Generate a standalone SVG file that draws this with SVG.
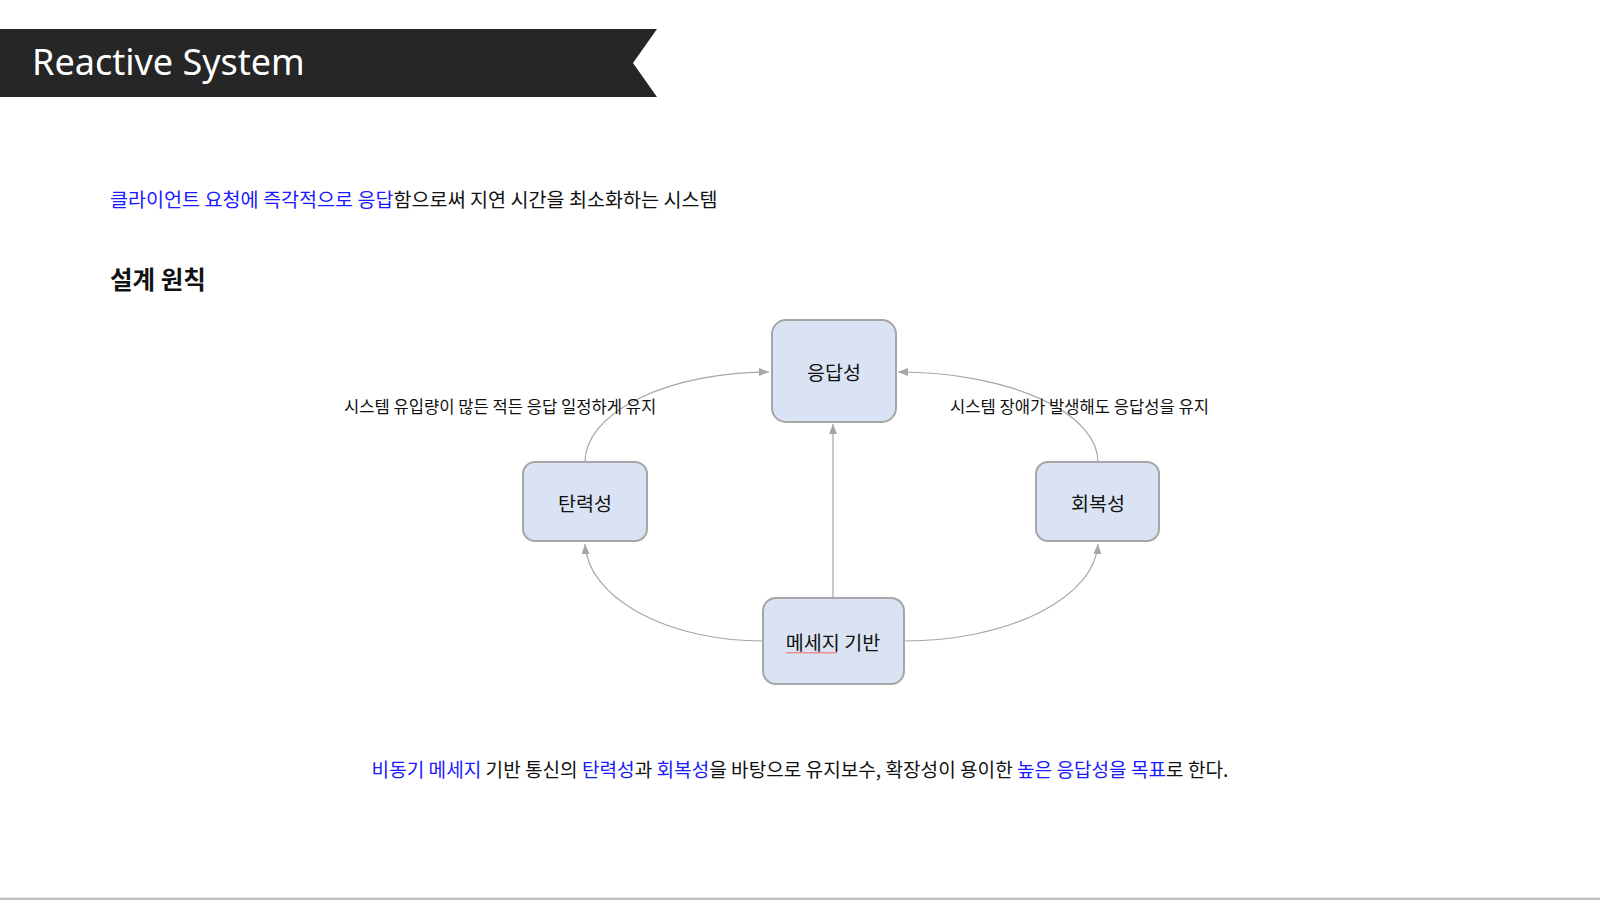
<svg xmlns="http://www.w3.org/2000/svg" width="1600" height="900" viewBox="0 0 1600 900">
  <defs>
    <marker id="arr" markerUnits="userSpaceOnUse" markerWidth="11" markerHeight="9" refX="10" refY="4" orient="auto">
      <path d="M0,0 L10,4 L0,8 z" fill="#a6a6a6"/>
    </marker>
    <style>
      .kr { font-family: "Noto Sans CJK KR", "Noto Sans", sans-serif; }
      .body { fill: #111111; }
      .blue { fill: #1a1aff; }
      .node rect { fill: #dae3f3; stroke: #a6a6a6; stroke-width: 2; }
      .node text { font-family: "Noto Sans CJK KR", sans-serif; font-size: 19.6px; fill: #111111; text-anchor: middle; dominant-baseline: central; }
      .conn path { fill: none; stroke: #a6a6a6; stroke-width: 1.2; marker-end: url(#arr); }
      .lbl { font-family: "Noto Sans CJK KR", sans-serif; font-size: 16.6px; fill: #111111; dominant-baseline: central; }
    </style>
  </defs>
  <rect width="1600" height="900" fill="#ffffff"/>

  <!-- Banner -->
  <polygon points="0,29 657,29 633,63 657,97 0,97" fill="#262626"/>
  <text x="32" y="75" font-family="'Noto Sans', 'Open Sans', sans-serif" font-size="36" fill="#ffffff">Reactive System</text>

  <!-- Intro line -->
  <text class="kr body" x="110" y="207" font-size="19.6"><tspan class="blue">클라이언트 요청에 즉각적으로 응답</tspan>함으로써 지연 시간을 최소화하는 시스템</text>

  <!-- Heading -->
  <text class="kr" x="110" y="289" font-size="24.5" font-weight="bold" fill="#111111">설계 원칙</text>

  <!-- Connectors -->
  <g id="connectors" class="conn">
    <path d="M833,598 L833,424"/>
    <path d="M763,641 A178,100 0 0 1 585,544"/>
    <path d="M904,641 A194,100 0 0 0 1098,544"/>
    <path d="M585,462 A185,90 0 0 1 769,372"/>
    <path d="M1098,462 A200,90 0 0 0 898,372"/>
  </g>

  <!-- Connector labels -->
  <text class="lbl" x="344" y="406">시스템 유입량이 많든 적든 응답 일정하게 유지</text>
  <text class="lbl" x="950" y="406">시스템 장애가 발생해도 응답성을 유지</text>

  <!-- Nodes -->
  <g id="node-response" class="node">
    <rect x="772" y="320" width="124" height="102" rx="14"/>
    <text x="834" y="371">응답성</text>
  </g>
  <g id="node-elastic" class="node">
    <rect x="523" y="462" width="124" height="79" rx="12"/>
    <text x="585" y="502">탄력성</text>
  </g>
  <g id="node-resilient" class="node">
    <rect x="1036" y="462" width="123" height="79" rx="12"/>
    <text x="1098" y="502">회복성</text>
  </g>
  <g id="node-message" class="node">
    <rect x="763" y="598" width="141" height="86" rx="13"/>
    <text x="833" y="641">메세지 기반</text>
  </g>
  <path d="M786,653.5 l1.5,-1.5 l1.5,1.5 l1.5,-1.5 l1.5,1.5 l1.5,-1.5 l1.5,1.5 l1.5,-1.5 l1.5,1.5 l1.5,-1.5 l1.5,1.5 l1.5,-1.5 l1.5,1.5 l1.5,-1.5 l1.5,1.5 l1.5,-1.5 l1.5,1.5 l1.5,-1.5 l1.5,1.5 l1.5,-1.5 l1.5,1.5 l1.5,-1.5 l1.5,1.5 l1.5,-1.5 l1.5,1.5 l1.5,-1.5 l1.5,1.5 l1.5,-1.5 l1.5,1.5 l1.5,-1.5 l1.5,1.5 l1.5,-1.5 l1.5,1.5 l1.5,-1.5 l1.5,1.5" fill="none" stroke="#ff4d4d" stroke-width="1"/>

  <!-- Summary line -->
  <text class="kr body" x="800" y="777" font-size="19.1" text-anchor="middle"><tspan class="blue">비동기 메세지</tspan> 기반 통신의 <tspan class="blue">탄력성</tspan>과 <tspan class="blue">회복성</tspan>을 바탕으로 유지보수, 확장성이 용이한 <tspan class="blue">높은 응답성을 목표</tspan>로 한다.</text>

  <!-- Bottom rule -->
  <line x1="0" y1="897.5" x2="1600" y2="897.5" stroke="#e6e6e6" stroke-width="1"/>
  <line x1="0" y1="899" x2="1600" y2="899" stroke="#bfbfbf" stroke-width="2"/>
</svg>
